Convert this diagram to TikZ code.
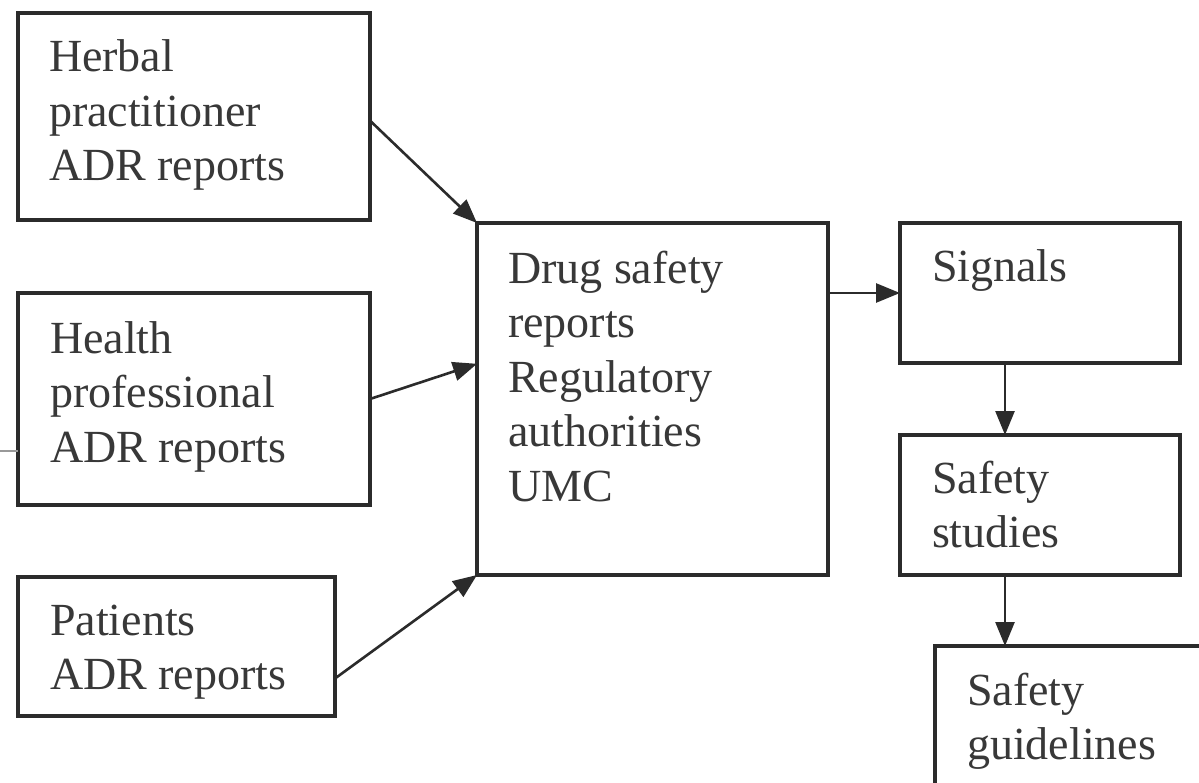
\documentclass[tikz,border=0pt]{standalone}
\usepackage{fontspec}
\setmainfont{Liberation Serif}
\usetikzlibrary{arrows.meta,calc}

\definecolor{ink}{HTML}{2B2B2B}
\definecolor{txtgray}{HTML}{383838}

\tikzset{
  box/.style={draw=ink, line width=3.6pt, rectangle, anchor=north west,
    inner sep=0pt, outer sep=0pt},
  lbl/.style={anchor=north west, inner sep=0pt, outer sep=0pt, align=left,
    text=txtgray, font=\fontsize{46}{54.5}\selectfont},
  flow/.style={draw=ink, line width=2.6pt,
    -{Triangle[length=24pt,width=19pt]}}
}

% box from top-left corner (x1,y1) to bottom-right corner (x2,y2)
\newcommand{\flowbox}[5]{%
  \node[box, minimum width=#4-#2, minimum height=#5-#3] (#1) at (#2,#3) {};}
% text block whose first baseline sits at (x,b)
\newcommand{\flowtext}[4]{%
  \node[lbl] (#1) at (#2,#3-38.15) {\strut#4};}

\begin{document}
\begin{tikzpicture}[x=1pt,y=-1pt]
  \useasboundingbox (0,0) rectangle (1199,783);
  \fill[white] (0,0) rectangle (1199,783);
  \clip (0,0) rectangle (1199,783);

  % short rule leaving the left margin
  \coordinate (rulestart) at (0,451);

  % source boxes
  \flowbox{herbal}{18}{13}{370}{220}
  \flowbox{health}{18}{293}{370}{505}
  \flowbox{patients}{18}{577}{335}{716}
  % collecting box
  \flowbox{center}{477}{223}{828}{575}
  % outcome boxes
  \flowbox{signals}{900}{223}{1180}{363}
  \flowbox{studies}{900}{435}{1180}{575}
  \flowbox{guide}{935}{646}{1230}{830}

  \draw[draw=gray!80, line width=1.6pt] (rulestart) -- (rulestart -| health.west);

  % labels
  \flowtext{herbaltxt}{49}{72}{Herbal\\practitioner\\ADR reports}
  \flowtext{healthtxt}{50}{353}{Health\\professional\\ADR reports}
  \flowtext{patientstxt}{50}{635}{Patients\\ADR reports}
  \flowtext{centertxt}{508}{283}{Drug safety\\reports\\Regulatory\\authorities\\UMC}
  \flowtext{signalstxt}{932}{282}{Signals}
  \flowtext{studiestxt}{932}{493}{Safety\\studies}
  \flowtext{guidetxt}{967}{705}{Safety\\guidelines}

  % connectors
  \draw[flow] ($(herbal.north east)!0.52!(herbal.south east)$) -- (center.north west);
  \draw[flow] (health.east) -- ($(center.north west)!0.40!(center.south west)$);
  \draw[flow] ($(patients.north east)!0.73!(patients.south east)$) -- (center.south west);
  \draw[flow] (center.east |- signals.west) -- (signals.west);
  \draw[flow] ([xshift=-35pt]signals.south) -- ([xshift=-35pt]studies.north);
  \draw[flow] ([xshift=-35pt]studies.south) -- ([xshift=-35pt]studies.south |- guide.north);
\end{tikzpicture}
\end{document}
